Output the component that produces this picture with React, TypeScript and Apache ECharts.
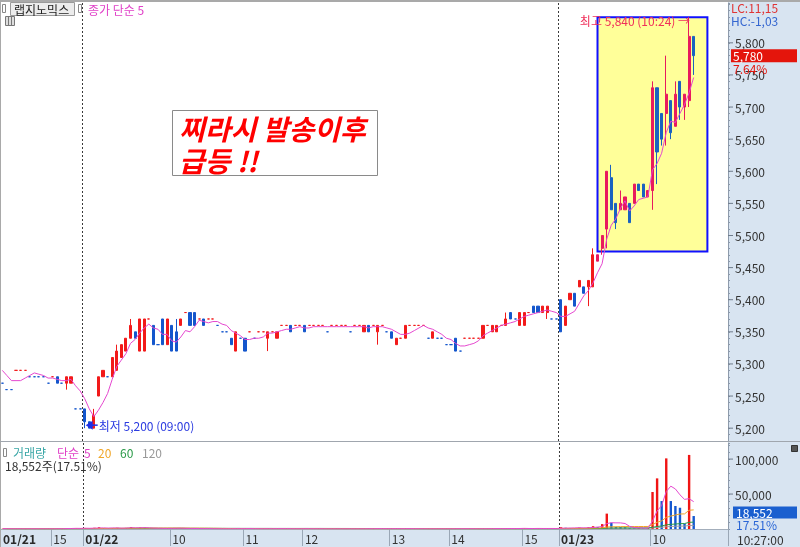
import React, { useEffect, useRef } from "react";
import * as echarts from "echarts";

// ---- axis / ticks ----
const slotCount = 159;
const tickIndex = [0, 11, 18, 37, 53, 66, 85, 98, 114, 122, 142];
const tickLabels = ["01/21", "15", "01/22", "10", "11", "12", "13", "14", "15", "01/23", "10"];
const dateTickIndex = [0, 18, 122];
const dayStarts = [18, 122];
const priceTicks = { min: 5180, max: 5862, step: 10, labelStep: 50, labelMax: 5800 };
const volumeTicks = { min: 0, max: 123000, step: 10000, labelStep: 50000 };

// ---- candles [open, close, low, high] ----
const priorCloses = [5300, 5300, 5290, 5290];
const candles21 = [
  [5270, 5270, 5270, 5270], [5260, 5260, 5260, 5260], [5260, 5260, 5260, 5260], [5290, 5290, 5290, 5290],
  [5290, 5290, 5290, 5290], [5290, 5290, 5290, 5290], [5280, 5280, 5280, 5280], [5280, 5280, 5280, 5280],
  [5280, 5280, 5280, 5280], [5280, 5280, 5280, 5280], [5270, 5270, 5270, 5270], [5280, 5280, 5280, 5280],
  [5280, 5270, 5270, 5280], [5270, 5270, 5270, 5270], [5270, 5280, 5260, 5280], [5270, 5280, 5270, 5280],
  [5230, 5230, 5230, 5230], [5230, 5230, 5230, 5230],
];
const candles22 = [
  [5230, 5210, 5200, 5230], [5210, 5200, 5200, 5210], [5200, 5220, 5200, 5230], [5250, 5280, 5250, 5280],
  [5280, 5290, 5280, 5290], [5280, 5280, 5280, 5280], [5280, 5310, 5280, 5310], [5290, 5320, 5290, 5330],
  [5310, 5330, 5310, 5330], [5320, 5340, 5320, 5340], [5340, 5360, 5340, 5370], [5350, 5340, 5340, 5350],
  [5320, 5370, 5320, 5370], [5320, 5370, 5320, 5370], [5370, 5370, 5370, 5370], [5360, 5330, 5330, 5360],
  [5330, 5330, 5330, 5330], [5370, 5330, 5330, 5370], [5330, 5370, 5330, 5370], [5360, 5320, 5320, 5360],
  [5350, 5320, 5320, 5370], [5360, 5370, 5360, 5370], [5380, 5380, 5380, 5380], [5380, 5360, 5360, 5380],
  [5380, 5360, 5360, 5380], [5370, 5370, 5370, 5370], [5370, 5360, 5360, 5370], [5370, 5370, 5370, 5370],
  [5370, 5370, 5370, 5370], [5360, 5360, 5360, 5360], [5350, 5350, 5350, 5350], [5350, 5350, 5350, 5350],
  [5340, 5330, 5330, 5340], [5320, 5350, 5320, 5350], [5340, 5340, 5340, 5340], [5340, 5320, 5320, 5340],
  [5350, 5350, 5350, 5350], [5340, 5340, 5340, 5340], [5350, 5350, 5350, 5350], [5350, 5350, 5350, 5350],
  [5340, 5350, 5320, 5350], [5350, 5350, 5350, 5350], [5340, 5350, 5340, 5350], [5360, 5360, 5360, 5360],
  [5360, 5360, 5360, 5360], [5360, 5350, 5350, 5360], [5360, 5360, 5360, 5360], [5360, 5360, 5360, 5360],
  [5360, 5350, 5350, 5360], [5360, 5360, 5360, 5360], [5360, 5360, 5360, 5360], [5360, 5360, 5360, 5360],
  [5360, 5360, 5360, 5360], [5350, 5350, 5350, 5350], [5360, 5360, 5360, 5360], [5360, 5360, 5360, 5360],
  [5360, 5360, 5360, 5360], [5360, 5360, 5360, 5360], [5350, 5350, 5350, 5350], [5360, 5360, 5360, 5360],
  [5360, 5360, 5360, 5360], [5350, 5360, 5350, 5360], [5360, 5350, 5350, 5360], [5360, 5360, 5360, 5360],
  [5350, 5360, 5330, 5360], [5360, 5360, 5360, 5360], [5350, 5350, 5350, 5350], [5350, 5340, 5340, 5350],
  [5330, 5340, 5330, 5340], [5340, 5340, 5340, 5340], [5340, 5360, 5340, 5360], [5360, 5360, 5360, 5360],
  [5360, 5360, 5360, 5360], [5360, 5360, 5360, 5360], [5360, 5360, 5360, 5360], [5340, 5340, 5340, 5340],
  [5340, 5350, 5340, 5350], [5340, 5340, 5340, 5340], [5340, 5340, 5340, 5340], [5330, 5330, 5330, 5330],
  [5330, 5330, 5330, 5330], [5340, 5320, 5320, 5340], [5320, 5320, 5320, 5320], [5340, 5340, 5340, 5340],
  [5340, 5340, 5340, 5340], [5340, 5340, 5340, 5340], [5340, 5340, 5340, 5340], [5340, 5360, 5340, 5360],
  [5360, 5360, 5360, 5360], [5350, 5360, 5350, 5360], [5350, 5360, 5350, 5360], [5360, 5360, 5360, 5360],
  [5360, 5370, 5360, 5380], [5380, 5370, 5370, 5380], [5370, 5370, 5370, 5370], [5360, 5380, 5360, 5380],
  [5360, 5380, 5360, 5380], [5380, 5380, 5380, 5380], [5390, 5380, 5380, 5390], [5390, 5380, 5380, 5390],
  [5380, 5390, 5380, 5390], [5380, 5390, 5370, 5390], [5370, 5370, 5370, 5370], [5370, 5370, 5370, 5370],
];
const candles23 = [
  [5400, 5350, 5350, 5400], [5360, 5390, 5360, 5390], [5400, 5410, 5400, 5410], [5410, 5390, 5390, 5410],
  [5420, 5430, 5420, 5430], [5420, 5410, 5410, 5420], [5420, 5430, 5390, 5430], [5420, 5470, 5420, 5480],
  [5460, 5470, 5460, 5470], [5480, 5500, 5470, 5500], [5510, 5600, 5480, 5600], [5590, 5540, 5540, 5610],
  [5550, 5520, 5510, 5550], [5540, 5550, 5540, 5570], [5540, 5560, 5540, 5560], [5550, 5520, 5520, 5550],
  [5550, 5580, 5550, 5580], [5580, 5570, 5570, 5580], [5580, 5560, 5560, 5580], [5560, 5570, 5560, 5570],
  [5570, 5730, 5540, 5740], [5730, 5630, 5580, 5730], [5690, 5650, 5640, 5690], [5690, 5720, 5640, 5780],
  [5710, 5660, 5650, 5710], [5670, 5720, 5670, 5740], [5740, 5700, 5680, 5740], [5700, 5720, 5680, 5720],
  [5710, 5810, 5700, 5840], [5810, 5780, 5750, 5810],
];

// ---- volumes ----
const volumes21 = [600, 200, 300, 400, 200, 300, 500, 200, 300, 200, 300, 400, 800, 300, 1200, 900, 1400, 500];
const volumes22 = [
  1500, 800, 1800, 2500, 1200, 300, 1500, 1800, 1200, 1600, 2900, 800,
  2200, 2000, 300, 900, 200, 1200, 1500, 1000, 1300, 700, 200, 800,
  900, 200, 600, 300, 200, 300, 200, 300, 500, 900, 200, 700,
  300, 200, 300, 200, 1000, 300, 600, 200, 300, 500, 200, 300,
  600, 200, 300, 200, 300, 200, 300, 200, 300, 200, 300, 200,
  300, 500, 600, 200, 900, 200, 300, 500, 700, 200, 800, 200,
  300, 200, 300, 200, 500, 200, 300, 200, 300, 900, 300, 200,
  300, 200, 300, 900, 300, 600, 700, 200, 1100, 800, 300, 1200,
  1000, 300, 700, 800, 900, 1000, 300, 600,
];
const volumes23 = [
  2500, 1800, 1500, 1200, 2000, 1500, 2500, 4000, 3000, 7000,
  22000, 9000, 3000, 2800, 2500, 1500, 1000, 1200, 800, 1500,
  52900, 72400, 40000, 101000, 40000, 32900, 30400, 7600, 105950, 18552,
];

// ---- annotation values ----
const highlightBox = { fromIndex: 130, toIndex: 154, top: 5840, bottom: 5475 };
const memoLines = ["찌라시 발송이후", "급등 !!"];
const stockName = "랩지노믹스";

const UP = "#f21a1a";
const DOWN = "#1456cc";
const UP_HL = "#e81a5e";
const DOWN_HL = "#1a62c0";
const FONT = '"Noto Sans CJK KR", "Noto Sans", sans-serif';

const fmt = (n: number) => Math.round(n).toLocaleString("en-US");
const movingAvg = (vals: number[], n: number, prior: number[] = []) => {
  const all = [...prior, ...vals];
  return vals.map((_, i) => {
    const end = i + prior.length;
    const start = Math.max(0, end - n + 1);
    let s = 0;
    for (let k = start; k <= end; k++) s += all[k];
    return Math.round((s / (end - start + 1)) * 10) / 10;
  });
};
const hhmm = (mins: number) => {
  const h = Math.floor(mins / 60);
  const m = mins % 60;
  return `${String(h).padStart(2, "0")}:${String(m).padStart(2, "0")}`;
};

export default function App() {
  const ref = useRef<HTMLDivElement>(null);
  useEffect(() => {
    const chart = echarts.init(ref.current!, null, { renderer: "svg" });
    const candles = [...candles21, ...candles22, ...candles23];
    const volumes = [...volumes21, ...volumes22, ...volumes23];
    const closes = candles.map((c) => c[1]);
    const cats = Array.from({ length: slotCount }, (_, i) => String(i));
    const barTime = (i: number) => {
      const ds = [...dayStarts].reverse().find((d) => i >= d) ?? 0;
      return hhmm(9 * 60 + 3 * (i - ds));
    };

    let prevUp = false;
    const candleItems = candles.map((c, i) => {
      const [o, cl] = c;
      const pc = i > 0 ? candles[i - 1][1] : priorCloses[priorCloses.length - 1];
      let up: boolean;
      if (cl > o) up = true;
      else if (cl < o) up = false;
      else if (cl > pc) up = true;
      else if (cl < pc) up = false;
      else up = prevUp;
      prevUp = up;
      const inBox = i >= highlightBox.fromIndex;
      const col = up ? (inBox ? UP_HL : UP) : inBox ? DOWN_HL : DOWN;
      return { value: c, itemStyle: { color: col, color0: col, borderColor: col, borderColor0: col } };
    });
    const volItems = volumes.map((v, i) => {
      const up = i === 0 ? true : v >= volumes[i - 1];
      return { value: v, itemStyle: { color: up ? "#f01414" : "#1458d0" } };
    });

    const ma5 = movingAvg(closes, 5, priorCloses);
    const vma = (n: number) => movingAvg(volumes, n);

    const tickFn = (i: number) => tickIndex.includes(i);
    const dayFn = (i: number) => dayStarts.includes(i);
    const dotted = { show: true, interval: dayFn, lineStyle: { color: "#3a3a3a", type: [2, 2] as any, width: 1 } };

    const option: any = {
      animation: false,
      textStyle: { fontFamily: FONT },
      grid: [
        { left: 0, right: 72, top: 3, height: 438 },
        { left: 0, right: 72, top: 443, height: 86 },
      ],
      xAxis: [
        {
          type: "category", gridIndex: 0, data: cats, boundaryGap: true,
          axisLine: { show: false }, axisTick: { show: false }, axisLabel: { show: false },
          splitLine: dotted,
        },
        {
          type: "category", gridIndex: 1, data: cats, boundaryGap: true,
          axisLine: { show: true, lineStyle: { color: "#a3aebb" } },
          axisTick: { show: true, interval: tickFn, length: 17, lineStyle: { color: "#9aa7b6" } },
          axisLabel: {
            show: true, interval: tickFn, align: "left", margin: 3, lineHeight: 13,
            formatter: (_v: string, i: number) => {
              const k = tickIndex.indexOf(i);
              if (k < 0) return "";
              return dateTickIndex.includes(i) ? `{b|${tickLabels[k]}}` : `{n|${tickLabels[k]}}`;
            },
            rich: {
              b: { fontSize: 12, lineHeight: 13, fontWeight: "bold", color: "#2a2a2a", fontFamily: FONT },
              n: { fontSize: 12, lineHeight: 13, color: "#333", fontFamily: FONT },
            },
          },
          splitLine: dotted,
        },
      ],
      yAxis: [
        {
          type: "value", gridIndex: 0, position: "right",
          min: priceTicks.min, max: priceTicks.max, interval: priceTicks.step,
          splitLine: { show: false },
          axisLine: { show: true, lineStyle: { color: "#8d9aab" } },
          axisTick: { show: true, length: 2, lineStyle: { color: "#8d9aab" } },
          axisLabel: {
            margin: 0,
            formatter: (v: number) =>
              v % priceTicks.labelStep === 0 && v <= priceTicks.labelMax ? `{t|}{v|${fmt(v)}}` : "",
            rich: {
              t: { width: 5, height: 1, backgroundColor: "#6f7c8c" },
              v: { fontSize: 12, color: "#333", padding: [0, 0, 0, 2], fontFamily: FONT },
            },
          },
        },
        {
          type: "value", gridIndex: 1, position: "right",
          min: volumeTicks.min, max: volumeTicks.max, interval: volumeTicks.step,
          splitLine: { show: false },
          axisLine: { show: true, lineStyle: { color: "#8d9aab" } },
          axisTick: { show: true, length: 2, lineStyle: { color: "#8d9aab" } },
          axisLabel: {
            margin: 0,
            formatter: (v: number) => (v > 0 && v % volumeTicks.labelStep === 0 ? `{t|}{v|${fmt(v)}}` : ""),
            rich: {
              t: { width: 5, height: 1, backgroundColor: "#6f7c8c" },
              v: { fontSize: 12, color: "#333", padding: [0, 0, 0, 2], fontFamily: FONT },
            },
          },
        },
      ],
      series: [
        {
          type: "candlestick", xAxisIndex: 0, yAxisIndex: 0, data: candleItems,
          barWidth: 2.6,
          itemStyle: { borderWidth: 1 },
          markArea: {
            silent: true,
            itemStyle: { color: "#ffff99", borderColor: "#1010ff", borderWidth: 2 },
            data: [[
              { coord: [highlightBox.fromIndex, highlightBox.top] },
              { coord: [highlightBox.toIndex, highlightBox.bottom] },
            ]],
          },
        },
        {
          type: "line", xAxisIndex: 0, yAxisIndex: 0, data: ma5, symbol: "none",
          lineStyle: { color: "#e548cf", width: 1 }, z: 3,
        },
        { type: "bar", xAxisIndex: 1, yAxisIndex: 1, data: volItems, barWidth: 2.4 },
        { type: "line", xAxisIndex: 1, yAxisIndex: 1, data: vma(120), symbol: "none", lineStyle: { color: "#a0a0a0", width: 1 } },
        { type: "line", xAxisIndex: 1, yAxisIndex: 1, data: vma(60), symbol: "none", lineStyle: { color: "#2a9a48", width: 1 } },
        { type: "line", xAxisIndex: 1, yAxisIndex: 1, data: vma(20), symbol: "none", lineStyle: { color: "#f0a628", width: 1 } },
        { type: "line", xAxisIndex: 1, yAxisIndex: 1, data: vma(5), symbol: "none", lineStyle: { color: "#e548cf", width: 1 } },
      ],
    };
    chart.setOption(option);

    // pixel-anchored annotations computed from the chart's own scales
    const last = candles.length - 1;
    const lastClose = closes[last];
    const prevDayClose = closes[dayStarts[dayStarts.length - 1] - 1];
    const pct = ((lastClose - prevDayClose) / prevDayClose) * 100;
    const yClose = chart.convertToPixel({ yAxisIndex: 0 }, lastClose) as number;
    const lastVol = volumes[last];
    const volPct = (lastVol / volumes[last - 1]) * 100;
    const yVol = chart.convertToPixel({ yAxisIndex: 1 }, lastVol) as number;

    let hiIdx = 0, loIdx = 0;
    candles.forEach((c, i) => {
      if (c[3] > candles[hiIdx][3]) hiIdx = i;
      if (c[2] < candles[loIdx][2]) loIdx = i;
    });
    const hiPt = chart.convertToPixel({ gridIndex: 0 }, [hiIdx, candles[hiIdx][3]]) as number[];
    const loPt = chart.convertToPixel({ gridIndex: 0 }, [loIdx, candles[loIdx][2]]) as number[];
    const lx = loPt[0] + 1;
    const ly = loPt[1] - 3;

    const txt = (x: number, y: number, text: string, fill: string, extra: any = {}) => ({
      type: "text", x, y, z: 20,
      style: { text, fill, font: `12px ${FONT}`, verticalAlign: "middle", ...extra },
    });

    const graphic: any[] = [
      // backgrounds
      { type: "rect", z: -5, shape: { x: 728, y: 0, width: 72, height: 547 }, style: { fill: "#d8e4f1" } },
      { type: "rect", z: -5, shape: { x: 0, y: 530, width: 728, height: 17 }, style: { fill: "#d8e4f1" } },
      { type: "line", z: 5, shape: { x1: 0, y1: 1, x2: 800, y2: 1 }, style: { stroke: "#a9a9a9", lineWidth: 2 } },
      { type: "line", z: 5, shape: { x1: 0.5, y1: 0, x2: 0.5, y2: 547 }, style: { stroke: "#a9a9a9", lineWidth: 1 } },
      { type: "line", z: 5, shape: { x1: 0, y1: 441.5, x2: 800, y2: 441.5 }, style: { stroke: "#a0a6ae", lineWidth: 1 } },
      // top-left title
      { type: "rect", z: 20, shape: { x: 2.5, y: 4.5, width: 3, height: 8 }, style: { fill: "#fff", stroke: "#888" } },
      { type: "rect", z: 20, shape: { x: 10.5, y: 2.5, width: 64, height: 13 }, style: { fill: "#ececec", stroke: "#9a9a9a" } },
      txt(14, 9.5, stockName, "#222"),
      { type: "rect", z: 20, shape: { x: 78.5, y: 4.5, width: 3, height: 8 }, style: { fill: "#fff", stroke: "#888" } },
      txt(88, 9.5, "종가 단순 5", "#e040c8"),
      { type: "rect", z: 20, shape: { x: 5.5, y: 16.5, width: 9, height: 9 }, style: { fill: "#ddd", stroke: "#777" } },
      { type: "line", z: 21, shape: { x1: 8.5, y1: 17, x2: 8.5, y2: 26 }, style: { stroke: "#777" } },
      { type: "line", z: 21, shape: { x1: 11.5, y1: 17, x2: 11.5, y2: 26 }, style: { stroke: "#777" } },
      // right-top stats
      txt(731, 7.5, "LC:11,15", "#e03434"),
      txt(731, 20, "HC:-1,03", "#3466d0"),
      // memo box
      { type: "rect", z: 20, shape: { x: 172.5, y: 110.5, width: 205, height: 65 }, style: { fill: "#fff", stroke: "#8a8a8a" } },
      { type: "text", z: 21, x: 179, y: 128, style: { text: memoLines[0], fill: "#ff0000", font: `italic bold 28px ${FONT}`, verticalAlign: "middle" } },
      { type: "text", z: 21, x: 179, y: 160, style: { text: memoLines[1], fill: "#ff0000", font: `italic bold 28px ${FONT}`, verticalAlign: "middle" } },
      // volume legend
      { type: "rect", z: 20, shape: { x: 3.5, y: 448.5, width: 3, height: 8 }, style: { fill: "#fff", stroke: "#888" } },
      txt(13, 452.5, "거래량", "#38a6a6"),
      txt(57, 452.5, "단순", "#e040c8"),
      txt(84, 452.5, "5", "#e040c8"),
      txt(98, 452.5, "20", "#f0a628"),
      txt(120, 452.5, "60", "#2a9a48"),
      txt(142, 452.5, "120", "#999999"),
      txt(5, 465.5, `${fmt(lastVol)}주(${volPct.toFixed(2)}%)`, "#333"),
      { type: "rect", z: 20, shape: { x: 791.5, y: 445.5, width: 6, height: 6 }, style: { fill: "#555", stroke: "#333" } },
      // price tag
      { type: "rect", z: 20, shape: { x: 731, y: yClose - 6.5, width: 66, height: 13 }, style: { fill: "#e4150c" } },
      txt(733, yClose, fmt(lastClose), "#ffffff"),
      txt(733, yClose + 12.5, `${pct.toFixed(2)}%`, "#e4150c"),
      // volume tag
      { type: "rect", z: 20, shape: { x: 733, y: yVol - 9.5, width: 64, height: 12 }, style: { fill: "#1a5fcf" } },
      txt(736, yVol - 3.5, fmt(lastVol), "#ffffff"),
      txt(736, yVol + 8, `${volPct.toFixed(2)}%`, "#2a66d6"),
      // time
      txt(737, 539, `${barTime(last)}:00`, "#333"),
      // high / low annotations
      txt(hiPt[0] + 1, hiPt[1] + 3.5, `최고 ${fmt(candles[hiIdx][3])} (${barTime(hiIdx)}) →`, "#f0305a", { align: "right" }),
      { type: "polygon", z: 20, shape: { points: [[lx, ly], [lx + 7, ly - 4.5], [lx + 7, ly + 4.5]] }, style: { fill: "#1f2fe6" } },
      { type: "line", z: 20, shape: { x1: lx + 6, y1: ly, x2: lx + 12, y2: ly }, style: { stroke: "#1f2fe6", lineWidth: 1.5 } },
      txt(lx + 13, ly, `최저 ${fmt(candles[loIdx][2])} (${barTime(loIdx)})`, "#2a3ae0"),
    ];
    chart.setOption({ graphic });

    return () => chart.dispose();
  }, []);
  return <div ref={ref} style={{ position: "fixed", left: 0, top: 0, width: 800, height: 547 }} />;
}
